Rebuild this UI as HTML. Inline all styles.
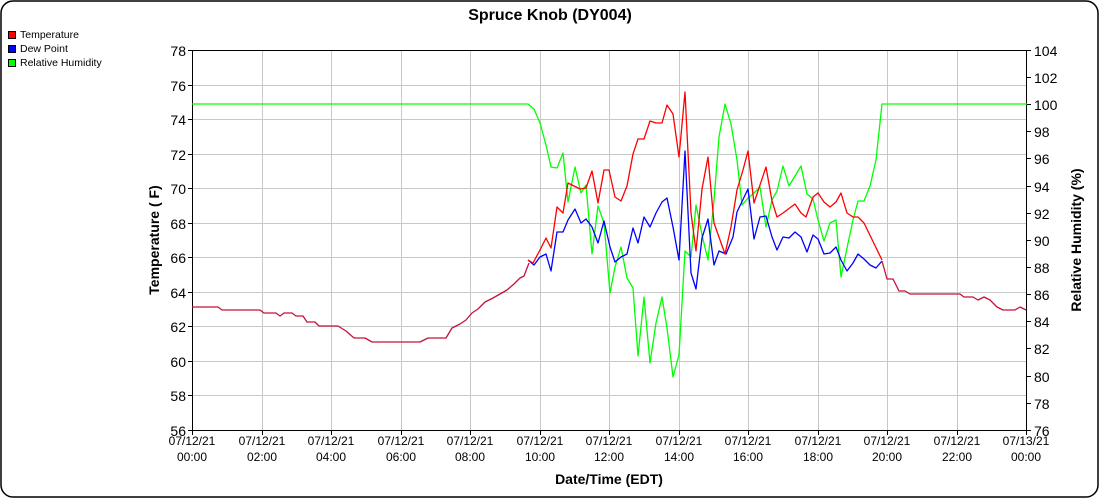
<!DOCTYPE html>
<html><head><meta charset="utf-8"><style>
html,body{margin:0;padding:0;background:#fff;}
svg{display:block;font-family:"Liberation Sans",sans-serif;}
</style></head><body>
<svg width="1100" height="500" viewBox="0 0 1100 500">
<rect x="1" y="1" width="1097" height="496" rx="12" fill="#fff" stroke="#000" stroke-width="1.5"/>
<text x="550" y="20" text-anchor="middle" font-size="16" font-weight="bold">Spruce Knob (DY004)</text>
<g font-size="10.5">
<rect x="8.5" y="31.5" width="7" height="7" fill="#f00" stroke="#000"/><text x="20" y="38">Temperature</text>
<rect x="8.5" y="45.5" width="7" height="7" fill="#00f" stroke="#000"/><text x="20" y="52">Dew Point</text>
<rect x="8.5" y="59.5" width="7" height="7" fill="#0f0" stroke="#000"/><text x="20" y="66">Relative Humidity</text>
</g>
<g stroke="#c8c8c8" stroke-width="1">
<path d="M192 85.5H1026M192 119.5H1026M192 154.5H1026M192 188.5H1026M192 223.5H1026M192 257.5H1026M192 292.5H1026M192 326.5H1026M192 361.5H1026M192 395.5H1026"/>
<path d="M262.5 50V430M331.5 50V430M401.5 50V430M470.5 50V430M540.5 50V430M609.5 50V430M679.5 50V430M748.5 50V430M818.5 50V430M887.5 50V430M957.5 50V430"/>
</g>
<g stroke="#000" fill="none">
<path d="M192.5 50V430.5H1026.5V50M192 50.5H1026"/>
<path d="M188 50.5H192M188 85.5H192M188 119.5H192M188 154.5H192M188 188.5H192M188 223.5H192M188 257.5H192M188 292.5H192M188 326.5H192M188 361.5H192M188 395.5H192M188 430.5H192"/>
<path d="M1026 50.5H1031M1026 77.5H1031M1026 104.5H1031M1026 131.5H1031M1026 158.5H1031M1026 186.5H1031M1026 213.5H1031M1026 240.5H1031M1026 267.5H1031M1026 294.5H1031M1026 321.5H1031M1026 348.5H1031M1026 376.5H1031M1026 403.5H1031M1026 430.5H1031"/>
<path d="M192.5 430V435M262.5 430V435M331.5 430V435M401.5 430V435M470.5 430V435M540.5 430V435M609.5 430V435M679.5 430V435M748.5 430V435M818.5 430V435M887.5 430V435M957.5 430V435M1026.5 430V435"/>
</g>
<g font-size="14" text-anchor="end">
<text x="186" y="56">78</text><text x="186" y="91">76</text><text x="186" y="125">74</text><text x="186" y="160">72</text><text x="186" y="194">70</text><text x="186" y="229">68</text><text x="186" y="263">66</text><text x="186" y="298">64</text><text x="186" y="332">62</text><text x="186" y="367">60</text><text x="186" y="401">58</text><text x="186" y="436">56</text>
</g>
<g font-size="14">
<text x="1034" y="56">104</text><text x="1034" y="83">102</text><text x="1034" y="110">100</text><text x="1034" y="137">98</text><text x="1034" y="164">96</text><text x="1034" y="192">94</text><text x="1034" y="219">92</text><text x="1034" y="246">90</text><text x="1034" y="273">88</text><text x="1034" y="300">86</text><text x="1034" y="327">84</text><text x="1034" y="354">82</text><text x="1034" y="382">80</text><text x="1034" y="409">78</text><text x="1034" y="436">76</text>
</g>
<g font-size="12" text-anchor="middle">
<text x="192" y="445">07/12/21</text><text x="192" y="461">00:00</text>
<text x="262" y="445">07/12/21</text><text x="262" y="461">02:00</text>
<text x="331" y="445">07/12/21</text><text x="331" y="461">04:00</text>
<text x="401" y="445">07/12/21</text><text x="401" y="461">06:00</text>
<text x="470" y="445">07/12/21</text><text x="470" y="461">08:00</text>
<text x="540" y="445">07/12/21</text><text x="540" y="461">10:00</text>
<text x="609" y="445">07/12/21</text><text x="609" y="461">12:00</text>
<text x="679" y="445">07/12/21</text><text x="679" y="461">14:00</text>
<text x="748" y="445">07/12/21</text><text x="748" y="461">16:00</text>
<text x="818" y="445">07/12/21</text><text x="818" y="461">18:00</text>
<text x="887" y="445">07/12/21</text><text x="887" y="461">20:00</text>
<text x="957" y="445">07/12/21</text><text x="957" y="461">22:00</text>
<text x="1026" y="445">07/13/21</text><text x="1026" y="461">00:00</text>
</g>
<text x="609" y="484" text-anchor="middle" font-size="14" font-weight="bold">Date/Time (EDT)</text>
<text transform="translate(159,240) rotate(-90)" text-anchor="middle" font-size="14" font-weight="bold">Temperature ( F)</text>
<text transform="translate(1081,240) rotate(-90)" text-anchor="middle" font-size="14" font-weight="bold">Relative Humidity (%)</text>
<g fill="none" stroke-width="1.3" stroke-linejoin="round">
<polyline stroke="#0f0" points="192,104 528,104 534,109 540,123 546,145 551,167 557,168 563,153 568,202 575,167 581,193 586,185 592,254 598,206 604,223 610,293 615,267 621,247 627,278 633,288 638,356 644,297 650,363 656,323 662,297 667,328 673,377 679,355 685,251 691,257 696,205 702,235 708,260 714,200 719,137 725,104 731,124 737,160 742,205 748,198 754,193 760,187 766,227 772,200 777,191 783,166 789,186 795,176 801,166 807,194 813,199 818,220 824,241 830,223 836,220 841,277 847,248 853,220 858,201 864,201 870,186 876,160 882,104 1027,104"/>
<polyline stroke="#00f" points="528,260 534,265 540,257 546,254 551,271 557,232 563,232 568,220 575,209 581,223 586,219 592,227 598,243 604,221 610,247 615,262 621,257 627,254 633,228 638,243 644,217 650,227 656,213 662,202 667,198 673,227 679,260 685,151 691,273 696,289 702,238 708,219 714,265 719,251 726,254 733,237 737,212 748,189 754,239 760,217 766,216 772,237 777,250 783,237 789,238 795,232 801,237 807,252 813,235 818,239 824,254 830,253 836,247 841,260 847,271 853,263 858,254 864,259 870,265 876,268 882,261"/>
<polyline stroke="#f00" points="528,260 533,263 540,250 546,238 551,248 557,207 563,213 568,183 580,189 586,188 592,171 598,203 604,170 609,170 615,197 621,201 627,186 633,154 638,139 644,139 650,121 656,123 662,123 667,105 673,114 679,157 685,92 691,213 696,251 702,189 708,157 714,223 725,254 731,227 737,190 743,170 748,151 754,203 766,167 772,201 777,217 783,213 795,204 801,213 806,217 813,197 818,193 824,202 830,207 836,202 841,193 847,213 853,217 858,217 864,223 882,260"/>
<polyline stroke="#c8103a" points="192,307 218,307 222,310 260,310 264,313 276,313 280,316 284,313 292,313 296,316 303,316 307,322 315,322 319,326 338,326 346,331 354,338 365,338 372,342 420,342 428,338 446,338 452,328 460,324 466,320 472,313 478,309 485,302 493,298 500,294 507,290 514,284 520,278 524,276 529,263"/>
<polyline stroke="#c8103a" points="882,261 887,279 893,279 899,291 905,291 910,294 960,294 964,297 973,297 978,300 984,297 990,300 997,307 1003,310 1015,310 1020,307 1026,310"/>
</g>
</svg>
</body></html>
